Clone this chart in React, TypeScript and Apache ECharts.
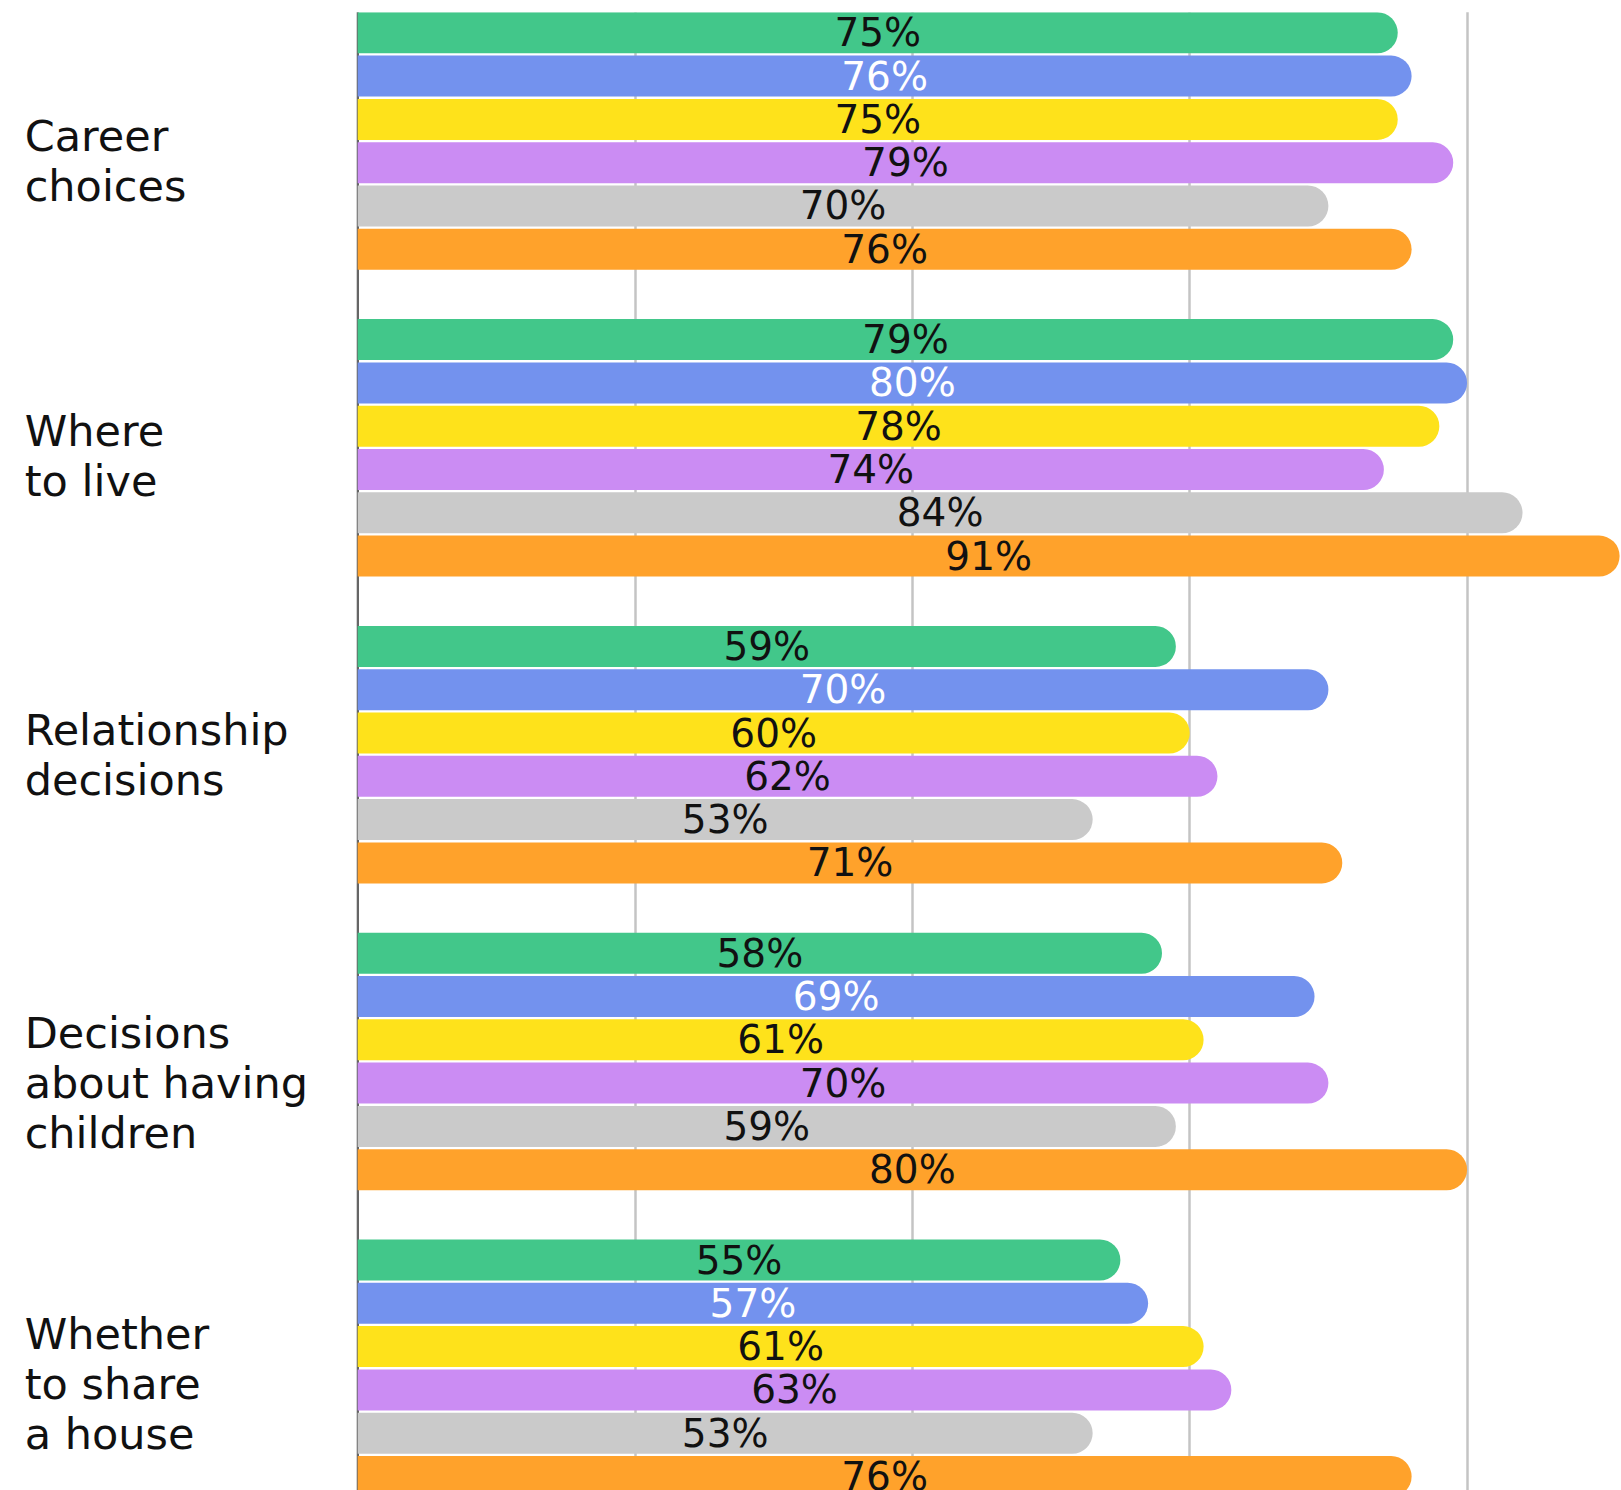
import React, { useEffect, useRef } from "react";
import * as echarts from "echarts";

const categories = [
  "Career\nchoices",
  "Where\nto live",
  "Relationship\ndecisions",
  "Decisions\nabout having\nchildren",
  "Whether\nto share\na house",
];

const seriesNames = ["Group 1", "Group 2", "Group 3", "Group 4", "Group 5", "Group 6"];
const greenValues = [75, 79, 59, 58, 55];
const blueValues = [76, 80, 70, 69, 57];
const yellowValues = [75, 78, 60, 61, 61];
const purpleValues = [79, 74, 62, 70, 63];
const grayValues = [70, 84, 53, 59, 53];
const orangeValues = [76, 91, 71, 80, 76];

const seriesValues = [greenValues, blueValues, yellowValues, purpleValues, grayValues, orangeValues];
const seriesColors = ["#42C78A", "#7392EE", "#FEE21B", "#CB8CF3", "#CACACA", "#FFA22B"];
const labelColors = ["#111111", "#FFFFFF", "#111111", "#111111", "#111111", "#111111"];
const labelShift = [20, 8.5, 0.5, 21.5, 15.5];

const FONT = "'DejaVu Sans', Inter, sans-serif";

export default function App() {
  const ref = useRef<HTMLDivElement>(null);
  useEffect(() => {
    document.body.style.margin = "0";
    document.body.style.overflow = "hidden";
    const chart = echarts.init(ref.current!, null, { renderer: "svg" });
    const rich: any = {};
    labelShift.forEach((s, i) => {
      rich["r" + i] = {
        fontSize: 43,
        lineHeight: 50,
        color: "#111111",
        fontFamily: FONT,
        padding: [s * 2, 0, 0, 0],
      };
    });
    const option: any = {
      animation: false,
      backgroundColor: "#ffffff",
      grid: {
        left: 357.7,
        right: 0,
        top: -12.35,
        height: 1534,
        containLabel: false,
        outerBoundsMode: "none",
      },
      xAxis: {
        type: "value",
        min: 0,
        max: 91.1,
        interval: 20,
        axisLabel: { show: false },
        axisLine: { show: false },
        axisTick: { show: false },
        splitLine: {
          show: true,
          showMaxLine: false,
          lineStyle: { color: "#c4c4c4", width: 2.5 },
        },
      },
      yAxis: {
        type: "category",
        inverse: true,
        data: categories,
        axisLine: { show: true, lineStyle: { color: "#666666", width: 2 } },
        axisTick: { show: false },
        axisLabel: {
          margin: 333,
          align: "left",
          verticalAlign: "middle",
          fontSize: 43,
          lineHeight: 50,
          color: "#111111",
          fontFamily: FONT,
          formatter: (value: string, index: number) =>
            value
              .split("\n")
              .map((line) => "{r" + index + "|" + line + "}")
              .join("\n"),
          rich,
        },
        splitLine: { show: false },
      },
      series: seriesValues.map((vals, i) => ({
        name: seriesNames[i],
        type: "bar",
        data: vals,
        barWidth: 41,
        barGap: "5.6%",
        itemStyle: { color: seriesColors[i], borderRadius: [0, 20.5, 20.5, 0] },
        label: {
          show: true,
          position: "inside",
          formatter: "{c}%",
          color: labelColors[i],
          fontSize: 39,
          fontFamily: FONT,
        },
      })),
      graphic: [
        {
          type: "rect",
          z: 100,
          shape: { x: 340, y: 0, width: 1300, height: 12.3 },
          style: { fill: "#ffffff" },
        },
      ],
    };
    chart.setOption(option);
    return () => chart.dispose();
  }, []);
  return <div ref={ref} style={{ width: 1621, height: 1490 }} />;
}
